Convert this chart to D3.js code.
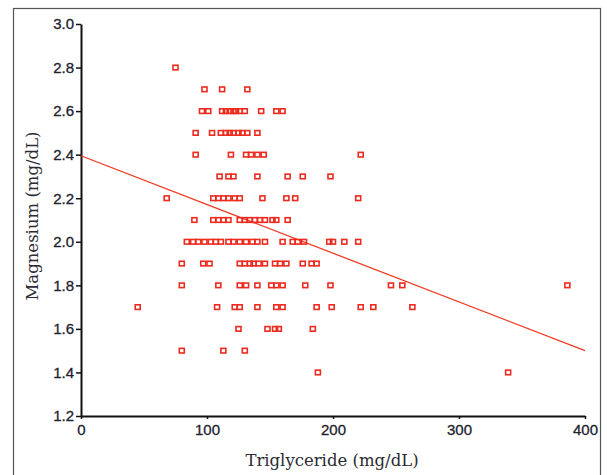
<!DOCTYPE html>
<html>
<head>
<meta charset="utf-8">
<script src="https://cdn.jsdelivr.net/npm/d3@7"></script>
<style>
  body { margin: 0; background: #fff; }
  svg { display: block; }
</style>
</head>
<body>
<script>
  // magnesium levels (rows) and the triglyceride values seen on each row
  const mgLevels = [2.8, 2.7, 2.6, 2.5, 2.4, 2.3, 2.2, 2.1, 2.0, 1.9, 1.8, 1.7, 1.6, 1.5, 1.4];
  const tgValues = [
    [75],
    [98, 112, 132],
    [96, 101, 112, 115, 118, 121, 123, 126, 130, 143, 155, 160],
    [91, 104, 111, 115, 118, 121, 125, 128, 132, 140],
    [91, 119, 131, 135, 140, 145, 222],
    [110, 117, 121, 140, 164, 176, 198],
    [68, 105, 109, 113, 117, 122, 126, 144, 163, 170, 220],
    [90, 105, 109, 113, 117, 126, 130, 134, 138, 142, 146, 152, 155, 164],
    [84, 89, 93, 98, 103, 107, 111, 117, 121, 126, 131, 136, 140, 146, 160, 168, 172, 177, 197, 200, 209, 220],
    [80, 97, 102, 126, 130, 134, 137, 141, 146, 154, 158, 163, 176, 183, 187],
    [80, 109, 126, 131, 140, 151, 155, 160, 178, 198, 246, 255, 386],
    [45, 108, 122, 126, 140, 155, 160, 187, 199, 222, 232, 263],
    [125, 148, 154, 157, 184],
    [80, 113, 130],
    [188, 339]
  ];

  // fitted regression line end points
  const fitLine = [{ x: 0, y: 2.395 }, { x: 400, y: 1.5 }];

  const xTicks = [0, 100, 200, 300, 400];
  const yTicks = [1.2, 1.4, 1.6, 1.8, 2.0, 2.2, 2.4, 2.6, 2.8, 3.0];

  const points = [];
  mgLevels.forEach((mg, i) => {
    tgValues[i].forEach(tg => points.push({ x: tg, y: mg }));
  });

  const W = 607, H = 475;

  var svg = d3.select("body")
    .append("svg")
    .attr("width", W)
    .attr("height", H);

  // outer frame
  svg.append("rect")
    .attr("x", 13.5)
    .attr("y", 8.5)
    .attr("width", 587)
    .attr("height", 480)
    .attr("fill", "none")
    .attr("stroke", "#555")
    .attr("stroke-width", 1.2);

  var x = d3.scaleLinear()
    .domain([0, 400])
    .range([81, 585]);

  var y = d3.scaleLinear()
    .domain([1.2, 3.0])
    .range([416, 24]);

  // X axis
  var xAxis = svg.append("g")
    .attr("transform", "translate(0,416)")
    .call(d3.axisBottom(x)
      .tickValues(xTicks)
      .tickSize(3)
      .tickSizeOuter(0)
      .tickPadding(5));

  // Y axis
  var yAxis = svg.append("g")
    .attr("transform", "translate(81,0)")
    .call(d3.axisLeft(y)
      .tickValues(yTicks)
      .tickFormat(d3.format(".1f"))
      .tickSize(5)
      .tickSizeOuter(0)
      .tickPadding(2));

  svg.selectAll(".domain")
    .attr("stroke", "#111")
    .attr("stroke-width", 2);
  svg.selectAll(".tick line")
    .attr("stroke", "#111")
    .attr("stroke-width", 1.5);
  svg.selectAll(".tick text")
    .attr("fill", "#22222e")
    .attr("stroke", "#22222e")
    .attr("stroke-width", 0.3)
    .style("font-family", "Liberation Sans, Arial, sans-serif")
    .style("font-size", "15px");

  // regression line
  svg.append("path")
    .datum(fitLine)
    .attr("fill", "none")
    .attr("stroke", "#f03a22")
    .attr("stroke-width", 1.3)
    .attr("d", d3.line()
      .x(d => x(d.x))
      .y(d => y(d.y)));

  // data points
  svg.append("g")
    .selectAll("rect")
    .data(points)
    .enter()
    .append("rect")
    .attr("x", d => x(d.x) - 2.5)
    .attr("y", d => y(d.y) - 2.3)
    .attr("width", 5)
    .attr("height", 4.6)
    .attr("fill", "none")
    .attr("stroke", "#ec2a1e")
    .attr("stroke-width", 1.6);

  // axis titles
  svg.append("text")
    .attr("x", 332)
    .attr("y", 466)
    .attr("text-anchor", "middle")
    .attr("fill", "#2b2b33")
    .style("font-family", "DejaVu Serif, serif")
    .style("font-size", "16.5px")
    .text("Triglyceride (mg/dL)");

  svg.append("text")
    .attr("transform", "translate(38,216) rotate(-90)")
    .attr("text-anchor", "middle")
    .attr("fill", "#2b2b33")
    .style("font-family", "DejaVu Serif, serif")
    .style("font-size", "16.5px")
    .text("Magnesium (mg/dL)");
</script>
</body>
</html>
